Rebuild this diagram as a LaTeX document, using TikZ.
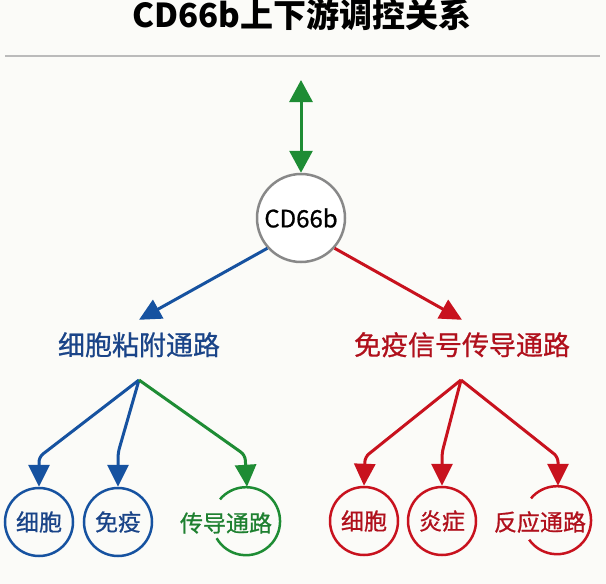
\documentclass[tikz,border=0pt]{standalone}
\usepackage{fontspec}
\setmainfont{Noto Sans CJK SC}
\newfontfamily\medfont{Noto Sans CJK SC}[FakeBold=0.8]
\usetikzlibrary{arrows.meta}
\definecolor{bg}{HTML}{FBFBF8}
\definecolor{cblue}{HTML}{1652A0}
\definecolor{tblue}{HTML}{1A4488}
\definecolor{cred}{HTML}{C8121E}
\definecolor{tred}{HTML}{B0101C}
\definecolor{cgreen}{HTML}{1E8C34}
\definecolor{tgreen}{HTML}{1E8030}
\definecolor{cgray}{HTML}{888888}
\definecolor{rulec}{HTML}{BBBBBB}
\begin{document}
\begin{tikzpicture}[x=1pt,y=-1pt,
  tip/.style={-{Triangle[width=21pt,length=22pt]}},
  conn/.style={line width=3pt, rounded corners=5pt, tip},
  lbl/.style={font=\medfont\fontsize{27}{27}\selectfont, text height=22pt, text depth=4pt, inner ysep=0pt, inner xsep=2pt},
  leaf/.style={circle, line width=2.5pt, minimum size=68pt, inner sep=0pt},
  leaftext/.style={font=\medfont\fontsize{23}{23}\selectfont, inner sep=1pt}
]
\fill[bg] (0,0) rectangle (606,584);
\useasboundingbox (0,0) rectangle (606,584);
% title
\node[font=\bfseries\fontsize{33}{33}\selectfont, text=black] (title) at (302,15) {CD66b上下游调控关系};
\coordinate (rl) at (5,56);
\coordinate (rr) at (600,56);
\draw[rulec, line width=2pt] (rl) -- (rr);
% central node
\node[circle, draw=cgray, line width=2.5pt, minimum size=88pt, inner sep=0pt, fill=white,
      font=\medfont\fontsize{24}{24}\selectfont] (cd) at (301,218) {CD66b};
\coordinate (up) at (301,80);
\draw[cgreen, line width=3pt, {Triangle[width=23pt,length=22pt]}-{Triangle[width=23pt,length=22pt]}] (up) -- (cd.north);
% level 2 labels
\node[lbl, text=tblue] (adh) at (139,346) {细胞粘附通路};
\node[lbl, text=tred] (imm) at (462,346) {免疫信号传导通路};
\draw[cblue, conn] (cd.222) -- ([yshift=13pt]adh.north);
\draw[cred, conn] (cd.-42) -- ([yshift=13pt]imm.north);
% branch points
\coordinate (bl) at (139,380);
\coordinate (br) at (461,380);
% left leaves
\node[leaf, draw=cblue] (l1) at (39,522) {};
\node[leaftext, text=tblue] at (l1) {细胞};
\node[leaf, draw=cblue] (l2) at (118,522) {};
\node[leaftext, text=tblue] at (l2) {免疫};
\node[leaf] (l3) at (247,522) {};
\node[leaftext, text=tgreen] (l3t) at (226,523) {传导通路};
\draw[cgreen, line width=2.5pt] (l3.140) arc[start angle=140, end angle=-150, radius=34pt];
\draw[cblue, conn] (bl) -- (39,457) -- (l1.north);
\draw[cblue, conn] (bl) -- (118,453) -- (l2.north);
\draw[cgreen, conn] (bl) -- (245,455) -- (l3.north);
% right leaves
\node[leaf, draw=cred] (r1) at (364,521) {};
\node[leaftext, text=tred] at (r1) {细胞};
\node[leaf, draw=cred] (r2) at (442,521) {};
\node[leaftext, text=tred] at (r2) {炎症};
\node[leaf] (r3) at (558,521) {};
\node[leaftext, text=tred] (r3t) at (540,522) {反应通路};
\draw[cred, line width=2.5pt] (r3.140) arc[start angle=140, end angle=-145, radius=34pt];
\draw[cred, conn] (br) -- (365,457) -- (r1.north);
\draw[cred, conn] (br) -- (442,453) -- (r2.north);
\draw[cred, conn] (br) -- (558,457) -- (r3.north);
\end{tikzpicture}
\end{document}
